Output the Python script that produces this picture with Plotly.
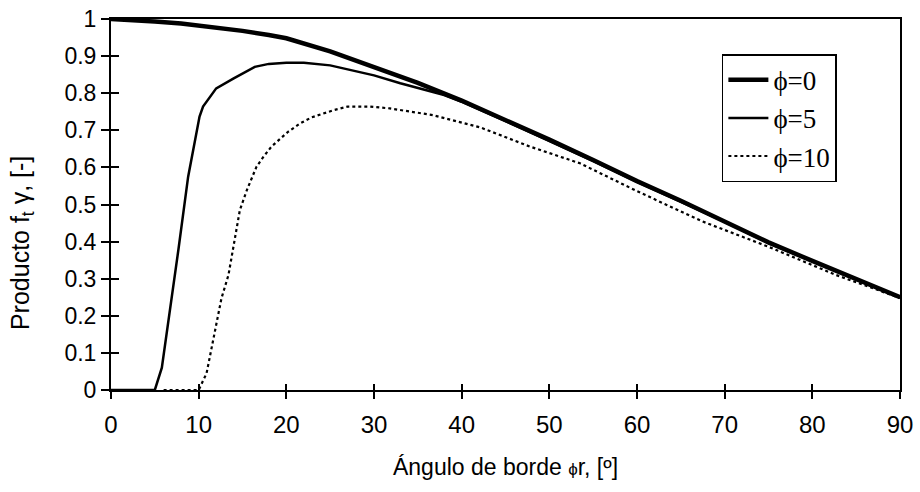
import plotly.graph_objects as go

# Data
x_phi0 = [0, 2, 5, 8, 10, 15, 18, 20, 25, 30, 35, 40, 45, 50, 55, 60, 65, 70, 75, 80, 85, 90]
y_phi0 = [1.0, 0.998, 0.993, 0.988, 0.983, 0.968, 0.957, 0.948, 0.913, 0.872, 0.828, 0.78,
          0.728, 0.675, 0.62, 0.563, 0.51, 0.455, 0.398, 0.348, 0.300, 0.25]

x_phi5 = [0, 2, 4, 5, 5.8, 6.7, 7.7, 8.8, 9.6, 10.1, 10.5, 12, 14, 16.4, 18, 20, 22, 25, 30,
          33, 38, 40, 45, 50, 55, 60, 65, 70, 75, 80, 85, 90]
y_phi5 = [0, 0, 0, 0.0, 0.06, 0.21, 0.38, 0.575, 0.674, 0.737, 0.764, 0.813, 0.840, 0.871,
          0.879, 0.882, 0.882, 0.875, 0.848, 0.827, 0.795, 0.777, 0.725, 0.672, 0.617, 0.561,
          0.508, 0.453, 0.396, 0.346, 0.298, 0.249]

x_phi10 = [6, 8, 10, 10.9, 11.5, 12, 12.6, 13.4, 13.9, 14.7, 15.5, 16.6, 17.4, 18.3, 20.2,
           21.6, 22.9, 25.5, 27, 29.5, 31.8, 36.7, 42.1, 47.8, 53.5, 60, 67.5, 75, 82.7, 90]
y_phi10 = [0, 0, 0.0, 0.045, 0.117, 0.18, 0.247, 0.31, 0.377, 0.485, 0.539, 0.602, 0.629,
           0.656, 0.696, 0.719, 0.735, 0.755, 0.764, 0.764, 0.759, 0.741, 0.708, 0.656,
           0.611, 0.536, 0.454, 0.386, 0.31, 0.248]

names = ["\u03d5=0", "\u03d5=5", "\u03d5=10"]

x_ticks = [0, 10, 20, 30, 40, 50, 60, 70, 80, 90]
y_ticks = [0, 0.1, 0.2, 0.3, 0.4, 0.5, 0.6, 0.7, 0.8, 0.9, 1]
y_ticklabels = ["0", "0.1", "0.2", "0.3", "0.4", "0.5", "0.6", "0.7", "0.8", "0.9", "1"]

x_title = "Ángulo de borde <span style='font-size:17px'>\u03d5</span>r, [º]"
y_title = "Producto f<sub>t</sub> \u03b3, [-]"

fig = go.Figure()
fig.add_trace(go.Scatter(x=x_phi0, y=y_phi0, mode="lines", name=names[0],
                         line=dict(color="black", width=4.5), legendgroup="a"))
fig.add_trace(go.Scatter(x=x_phi5, y=y_phi5, mode="lines", name=names[1],
                         line=dict(color="black", width=2.5), legendgroup="b"))
fig.add_trace(go.Scatter(x=x_phi10, y=y_phi10, mode="lines", name=names[2],
                         line=dict(color="black", width=2.2, dash="dot"), legendgroup="c"))
# invisible trace to host inside ticks on overlay axes
fig.add_trace(go.Scatter(x=[0, 90], y=[0, 1], mode="markers", marker=dict(opacity=0),
                         showlegend=False, hoverinfo="skip", xaxis="x2", yaxis="y2"))

sans = "Liberation Sans, Arial, sans-serif"
xtick_font = dict(family=sans, size=24, color="black")
ytick_font = dict(family=sans, size=23, color="black")
title_font = dict(family=sans, size=23, color="black")

fig.update_layout(
    width=920, height=492,
    margin=dict(l=111, r=20, t=19, b=102),
    paper_bgcolor="white", plot_bgcolor="white",
    font=title_font,
    showlegend=True,
    legend=dict(x=0.92, y=0.905, xanchor="right", yanchor="top",
                bgcolor="white", bordercolor="black", borderwidth=1.5,
                font=dict(family="Liberation Serif, Times New Roman, serif", size=27, color="black"),
                tracegroupgap=2, traceorder="normal", itemwidth=40),
    xaxis=dict(range=[0, 90], tickvals=x_ticks, ticks="outside", ticklen=7, tickwidth=1.5,
               tickcolor="black", showline=True, linecolor="black", linewidth=2, mirror=True,
               showgrid=False, zeroline=False, tickfont=xtick_font, automargin=False,
               ticklabelstandoff=5, ticklabeloverflow="allow",
               title=dict(text=x_title, font=title_font, standoff=22)),
    yaxis=dict(range=[0, 1], tickvals=y_ticks, ticktext=y_ticklabels, ticks="outside",
               ticklen=8, tickwidth=1.5, tickcolor="black", showline=True, linecolor="black",
               linewidth=2, mirror=True, showgrid=False, zeroline=False, tickfont=ytick_font,
               automargin=False, ticklabeloverflow="allow"),
    xaxis2=dict(range=[0, 90], tickvals=x_ticks, ticks="inside", ticklen=6, tickwidth=1.5,
                tickcolor="black", showticklabels=False, showgrid=False, zeroline=False,
                overlaying="x", side="bottom", showline=False, automargin=False),
    yaxis2=dict(range=[0, 1], tickvals=y_ticks, ticks="inside", ticklen=8, tickwidth=1.5,
                tickcolor="black", showticklabels=False, showgrid=False, zeroline=False,
                overlaying="y", side="left", showline=False, automargin=False),
    annotations=[dict(text=y_title, textangle=-90, xref="paper", yref="paper",
                      x=-0.1128, y=0.396, xanchor="center", yanchor="middle", showarrow=False,
                      font=dict(family=sans, size=25, color="black"))],
)

fig.write_html("out.html", config={"displayModeBar": False},
               post_script="document.body.style.margin='0';document.body.style.overflow='hidden';")
